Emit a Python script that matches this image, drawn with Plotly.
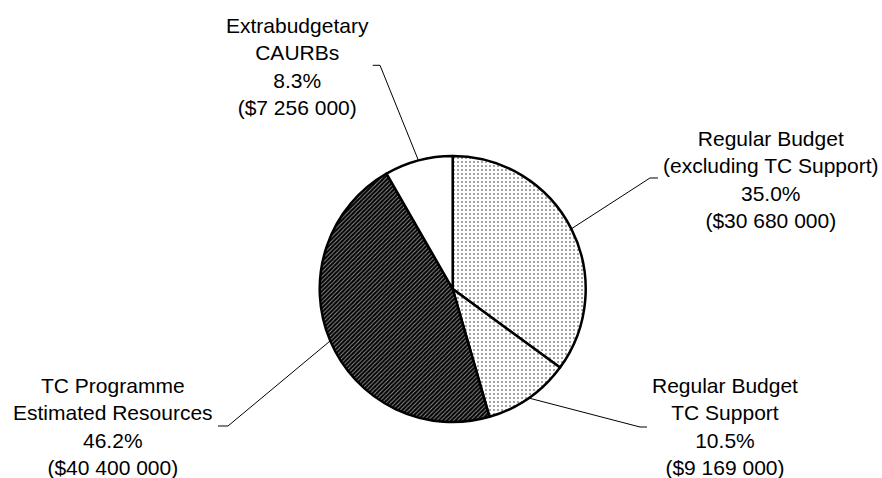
import math
import plotly.graph_objects as go

# ---- data ----
categories = [
    "Regular Budget<br>(excluding TC Support)",
    "Regular Budget<br>TC Support",
    "TC Programme<br>Estimated Resources",
    "Extrabudgetary<br>CAURBs",
]
values = [30680000, 9169000, 40400000, 7256000]
percent_labels = ["35.0%", "10.5%", "46.2%", "8.3%"]
value_labels = ["($30 680 000)", "($9 169 000)", "($40 400 000)", "($7 256 000)"]

# ---- layout constants (pixels) ----
W, H = 882, 478
CX, CY, R = 452.7, 289.0, 133.0
FONT = dict(family="Liberation Sans, Arial, sans-serif", size=21, color="#000")

# label block centres and elbow (stub) endpoints, per slice
label_pos = [(771, 179), (725, 426), (113, 426.5), (297, 66.5)]
stub = [((658, 178), (650, 178)), ((647, 427), (640, 427)),
        ((218, 426), (228, 426)), ((372.7, 65.3), (380, 65.3))]

fig = go.Figure()
fig.add_trace(go.Pie(
    values=values,
    labels=[c.replace("<br>", " ") for c in categories],
    sort=False,
    direction="clockwise",
    rotation=0,
    textinfo="none",
    hoverinfo="label+percent+value",
    showlegend=False,
    domain=dict(x=[(CX - R) / W, (CX + R) / W],
                y=[(H - CY - R) / H, (H - CY + R) / H]),
    marker=dict(
        colors=["#ffffff", "#ffffff", "#000000", "#ffffff"],
        line=dict(color="#000", width=2.5),
        pattern=dict(
            shape=[".", ".", "/", ""],
            fgcolor=["#858585", "#858585", "#959595", "#ffffff"],
            bgcolor=["#ffffff", "#ffffff", "#000000", "#ffffff"],
            size=[4, 4, 3, 4],
            solidity=[0.2, 0.2, 0.3, 0.2],
            fillmode="replace",
        ),
    ),
))

total = sum(values)
cum = 0.0
shapes = []
annotations = []
for i, v in enumerate(values):
    frac = v / total
    mid = (cum + frac / 2) * 2 * math.pi
    cum += frac
    ex = CX + R * math.sin(mid)
    ey = CY - R * math.cos(mid)
    (sx0, sy0), (sx1, sy1) = stub[i]
    pts = [(ex, ey), (sx1, sy1), (sx0, sy0)]
    path = "M " + " L ".join(f"{x / W:.5f},{1 - y / H:.5f}" for x, y in pts)
    shapes.append(dict(type="path", xref="paper", yref="paper", path=path,
                       line=dict(color="#000", width=1)))
    lx, ly = label_pos[i]
    text = f"{categories[i]}<br>{percent_labels[i]}<br>{value_labels[i]}"
    annotations.append(dict(
        x=lx / W, y=1 - ly / H, xref="paper", yref="paper",
        xanchor="center", yanchor="middle", showarrow=False,
        align="center", text=text, font=FONT,
    ))

fig.update_layout(
    width=W, height=H,
    margin=dict(l=0, r=0, t=0, b=0),
    paper_bgcolor="#fff", plot_bgcolor="#fff",
    shapes=shapes, annotations=annotations,
)
fig.write_html("out.html", config={"displayModeBar": False},
               post_script="document.body.style.margin='0';document.body.style.padding='0';")
